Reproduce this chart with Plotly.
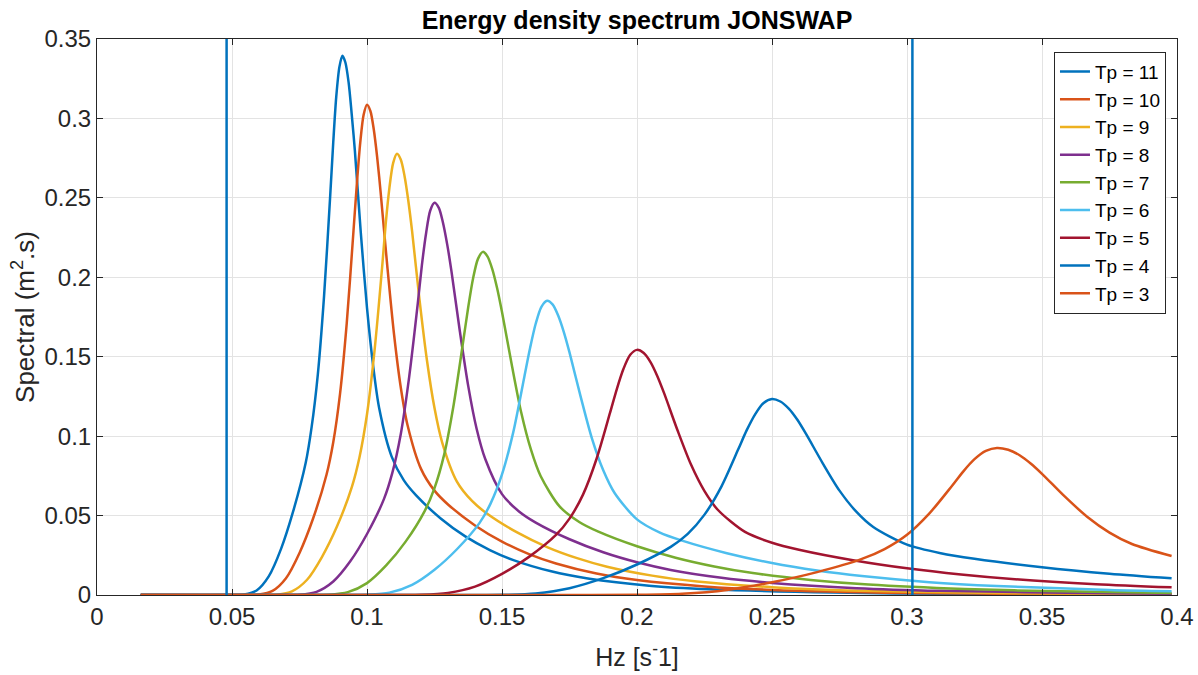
import plotly.graph_objects as go

# Frequencies (Hz) and spectral densities (m^2.s), one pair per Tp
f11 = [0.0162, 0.05, 0.0545, 0.0591, 0.0636, 0.0682, 0.0727, 0.0773, 0.0795, 0.0818, 0.0841, 0.0864, 0.0875, 0.0886, 0.0898, 0.0909, 0.0920, 0.0932, 0.0943, 0.0955, 0.0977, 0.1000, 0.1023, 0.1045, 0.1091, 0.1136, 0.1182, 0.1273, 0.1364, 0.1455, 0.1545, 0.1682, 0.1818, 0.2045, 0.2273, 0.2727, 0.3182, 0.3636, 0.398]
s11 = [0, 0, 0.0003, 0.0028, 0.0117, 0.0292, 0.0529, 0.0832, 0.1058, 0.1391, 0.1883, 0.2522, 0.2850, 0.3134, 0.3326, 0.3395, 0.3352, 0.3225, 0.3034, 0.2799, 0.2281, 0.1808, 0.1439, 0.1177, 0.0873, 0.0723, 0.0627, 0.0482, 0.0369, 0.0283, 0.0218, 0.0149, 0.0104, 0.0059, 0.0036, 0.0015, 0.0007, 0.0003, 0.0002]

f10 = [0.0162, 0.055, 0.06, 0.065, 0.07, 0.075, 0.08, 0.085, 0.0875, 0.09, 0.0925, 0.095, 0.09625, 0.0975, 0.09875, 0.1, 0.10125, 0.1025, 0.10375, 0.105, 0.1075, 0.11, 0.1125, 0.115, 0.12, 0.125, 0.13, 0.14, 0.15, 0.16, 0.17, 0.185, 0.2, 0.225, 0.25, 0.3, 0.35, 0.398]
s10 = [0, 0, 0.0003, 0.0026, 0.0106, 0.0265, 0.0480, 0.0757, 0.0962, 0.1265, 0.1712, 0.2293, 0.2590, 0.2848, 0.3023, 0.3086, 0.3047, 0.2932, 0.2758, 0.2544, 0.2073, 0.1643, 0.1308, 0.1070, 0.0794, 0.0657, 0.0570, 0.0438, 0.0336, 0.0257, 0.0198, 0.0135, 0.0094, 0.0054, 0.0032, 0.0013, 0.0006, 0.0003]

f9 = [0.0162, 0.0611, 0.0667, 0.0722, 0.0778, 0.0833, 0.0889, 0.0944, 0.0972, 0.1, 0.1028, 0.1056, 0.1069, 0.1083, 0.1097, 0.1111, 0.1125, 0.1139, 0.1153, 0.1167, 0.1194, 0.1222, 0.125, 0.1278, 0.1333, 0.1389, 0.1444, 0.1556, 0.1667, 0.1778, 0.1889, 0.2056, 0.2222, 0.25, 0.2778, 0.3333, 0.3889, 0.398]
s9 = [0, 0, 0.0002, 0.0023, 0.0096, 0.0239, 0.0432, 0.0681, 0.0866, 0.1138, 0.1540, 0.2063, 0.2331, 0.2563, 0.2720, 0.2777, 0.2741, 0.2638, 0.2482, 0.2290, 0.1866, 0.1478, 0.1177, 0.0963, 0.0714, 0.0592, 0.0513, 0.0394, 0.0302, 0.0232, 0.0178, 0.0122, 0.0085, 0.0049, 0.0029, 0.0012, 0.0006, 0.0005]

f8 = [0.0162, 0.0688, 0.075, 0.0813, 0.0875, 0.0938, 0.1, 0.1063, 0.1094, 0.1125, 0.1156, 0.1188, 0.1203, 0.1219, 0.1234, 0.125, 0.1266, 0.1281, 0.1297, 0.1313, 0.1344, 0.1375, 0.1406, 0.1438, 0.15, 0.1563, 0.1625, 0.175, 0.1875, 0.2, 0.2125, 0.2313, 0.25, 0.2813, 0.3125, 0.375, 0.398]
s8 = [0, 0, 0.0002, 0.0020, 0.0085, 0.0212, 0.0384, 0.0605, 0.0770, 0.1012, 0.1370, 0.1834, 0.2072, 0.2279, 0.2419, 0.2469, 0.2437, 0.2346, 0.2207, 0.2036, 0.1659, 0.1315, 0.1047, 0.0856, 0.0635, 0.0526, 0.0456, 0.0351, 0.0269, 0.0206, 0.0158, 0.0108, 0.0076, 0.0043, 0.0026, 0.0011, 0.0008]

f7 = [0.0162, 0.0786, 0.0857, 0.0929, 0.1, 0.1071, 0.1143, 0.1214, 0.125, 0.1286, 0.1321, 0.1357, 0.1375, 0.1393, 0.1411, 0.1429, 0.1446, 0.1464, 0.1482, 0.15, 0.1536, 0.1571, 0.1607, 0.1643, 0.1714, 0.1786, 0.1857, 0.2, 0.2143, 0.2286, 0.2429, 0.2643, 0.2857, 0.3214, 0.3571, 0.398]
s7 = [0, 0, 0.0002, 0.0018, 0.0075, 0.0186, 0.0336, 0.0530, 0.0673, 0.0885, 0.1198, 0.1605, 0.1813, 0.1994, 0.2116, 0.2160, 0.2132, 0.2052, 0.1931, 0.1781, 0.1451, 0.1150, 0.0916, 0.0749, 0.0556, 0.0460, 0.0399, 0.0307, 0.0235, 0.0180, 0.0138, 0.0095, 0.0066, 0.0038, 0.0023, 0.0013]

f6 = [0.0162, 0.0917, 0.1, 0.1083, 0.1167, 0.125, 0.1333, 0.1417, 0.1458, 0.15, 0.1542, 0.1583, 0.1604, 0.1625, 0.1646, 0.1667, 0.1688, 0.1708, 0.1729, 0.175, 0.1792, 0.1833, 0.1875, 0.1917, 0.2, 0.2083, 0.2167, 0.2333, 0.25, 0.2667, 0.2833, 0.3083, 0.3333, 0.375, 0.398]
s6 = [0, 0, 0.0002, 0.0015, 0.0064, 0.0159, 0.0288, 0.0454, 0.0577, 0.0759, 0.1027, 0.1376, 0.1555, 0.1709, 0.1814, 0.1852, 0.1828, 0.1759, 0.1655, 0.1527, 0.1244, 0.0986, 0.0785, 0.0642, 0.0476, 0.0394, 0.0342, 0.0263, 0.0201, 0.0154, 0.0119, 0.0081, 0.0057, 0.0032, 0.0024]

f5 = [0.0162, 0.11, 0.12, 0.13, 0.14, 0.15, 0.16, 0.17, 0.175, 0.18, 0.185, 0.19, 0.1925, 0.195, 0.1975, 0.2, 0.2025, 0.205, 0.2075, 0.21, 0.215, 0.22, 0.225, 0.23, 0.24, 0.25, 0.26, 0.28, 0.3, 0.32, 0.34, 0.37, 0.398]
s5 = [0, 0, 0.0001, 0.0013, 0.0053, 0.0133, 0.0240, 0.0378, 0.0481, 0.0632, 0.0856, 0.1146, 0.1295, 0.1424, 0.1512, 0.1543, 0.1523, 0.1466, 0.1379, 0.1272, 0.1037, 0.0821, 0.0654, 0.0535, 0.0397, 0.0329, 0.0285, 0.0219, 0.0168, 0.0129, 0.0099, 0.0068, 0.0048]

f4 = [0.0162, 0.1375, 0.15, 0.1625, 0.175, 0.1875, 0.2, 0.2125, 0.2188, 0.225, 0.2313, 0.2375, 0.2406, 0.2438, 0.2469, 0.25, 0.2531, 0.2563, 0.2594, 0.2625, 0.2688, 0.275, 0.2813, 0.2875, 0.3, 0.3125, 0.325, 0.35, 0.375, 0.398]
s4 = [0, 0, 0.0001, 0.0010, 0.0043, 0.0106, 0.0192, 0.0303, 0.0385, 0.0506, 0.0684, 0.0917, 0.1036, 0.1139, 0.1209, 0.1234, 0.1218, 0.1172, 0.1103, 0.1017, 0.0829, 0.0657, 0.0523, 0.0428, 0.0317, 0.0263, 0.0228, 0.0175, 0.0134, 0.0105]

f3 = [0.0162, 0.1833, 0.2, 0.2167, 0.2333, 0.25, 0.2667, 0.2833, 0.2917, 0.3, 0.3083, 0.3167, 0.3208, 0.325, 0.3292, 0.3333, 0.3375, 0.3417, 0.3458, 0.35, 0.3583, 0.3667, 0.375, 0.3833, 0.398]
s3 = [0, 0, 0.0001, 0.0008, 0.0032, 0.0080, 0.0144, 0.0227, 0.0289, 0.0379, 0.0514, 0.0688, 0.0777, 0.0855, 0.0907, 0.0926, 0.0914, 0.0880, 0.0828, 0.0763, 0.0622, 0.0493, 0.0393, 0.0321, 0.0245]

labels = ["Tp = 11", "Tp = 10", "Tp = 9", "Tp = 8", "Tp = 7", "Tp = 6", "Tp = 5", "Tp = 4", "Tp = 3"]
freqs = [f11, f10, f9, f8, f7, f6, f5, f4, f3]
specs = [s11, s10, s9, s8, s7, s6, s5, s4, s3]
colors = ["#0072BD", "#D95319", "#EDB120", "#7E2F8E", "#77AC30", "#4DBEEE", "#A2142F", "#0072BD", "#D95319"]

# vertical markers (Hz)
vlines = [0.048, 0.302]

x_ticks = [0, 0.05, 0.1, 0.15, 0.2, 0.25, 0.3, 0.35, 0.4]
x_ticktext = ["0", "0.05", "0.1", "0.15", "0.2", "0.25", "0.3", "0.35", "0.4"]
y_ticks = [0, 0.05, 0.1, 0.15, 0.2, 0.25, 0.3, 0.35]
y_ticktext = ["0", "0.05", "0.1", "0.15", "0.2", "0.25", "0.3", "0.35"]

FONT = "Liberation Sans, Arial, Helvetica, sans-serif"
TXT = "#262626"

fig = go.Figure()
for i, (lab, fx, sy, c) in enumerate(zip(labels, freqs, specs, colors)):
    fig.add_trace(go.Scatter(
        x=fx, y=sy, mode="lines", name=lab,
        line=dict(color=c, width=2.5, shape="spline", smoothing=0.8),
        legendgroup=f"g{i}",
    ))

for xv in vlines:
    fig.add_shape(type="line", x0=xv, x1=xv, y0=0, y1=0.35, xref="x", yref="y",
                  line=dict(color="#0072BD", width=2.5), layer="above")

fig.update_layout(
    width=1198, height=675,
    margin=dict(l=97, r=21, t=39, b=80),
    paper_bgcolor="white", plot_bgcolor="white",
    font=dict(family=FONT, color=TXT, size=20),
    title=dict(text="<b>Energy density spectrum JONSWAP</b>", x=(97 + 1177) / 2 / 1198, xanchor="center",
               y=1 - 20 / 675, yanchor="middle", font=dict(size=25, color="#000000")),
    showlegend=True,
    legend=dict(x=0.9898, xanchor="right", y=0.9772, yanchor="top",
                bgcolor="white", bordercolor="#262626", borderwidth=1,
                font=dict(size=19, color="#000000"), tracegroupgap=0,
                itemwidth=30),
)
fig.update_xaxes(
    range=[0, 0.4], tickvals=x_ticks, ticktext=x_ticktext, automargin=False,
    showgrid=True, gridcolor="#e3e3e3", gridwidth=1, zeroline=False,
    showline=True, linecolor=TXT, linewidth=1, mirror="ticks",
    ticks="inside", ticklen=6, tickcolor=TXT, tickfont=dict(size=24, color=TXT),
    title=dict(text="Hz [s<sup>-</sup>1]", font=dict(size=25, color=TXT), standoff=19),
)
fig.update_yaxes(
    range=[0, 0.35], tickvals=y_ticks, ticktext=y_ticktext, automargin=False,
    showgrid=True, gridcolor="#e3e3e3", gridwidth=1, zeroline=False,
    showline=True, linecolor=TXT, linewidth=1, mirror="ticks",
    ticks="inside", ticklen=6, tickcolor=TXT, tickfont=dict(size=24, color=TXT),
    title=dict(text="Spectral (m<sup>2</sup>.s)", font=dict(size=26, color=TXT), standoff=2),
)

fig.write_html("out.html", config={"displayModeBar": False},
               post_script="document.body.style.margin='0';")
